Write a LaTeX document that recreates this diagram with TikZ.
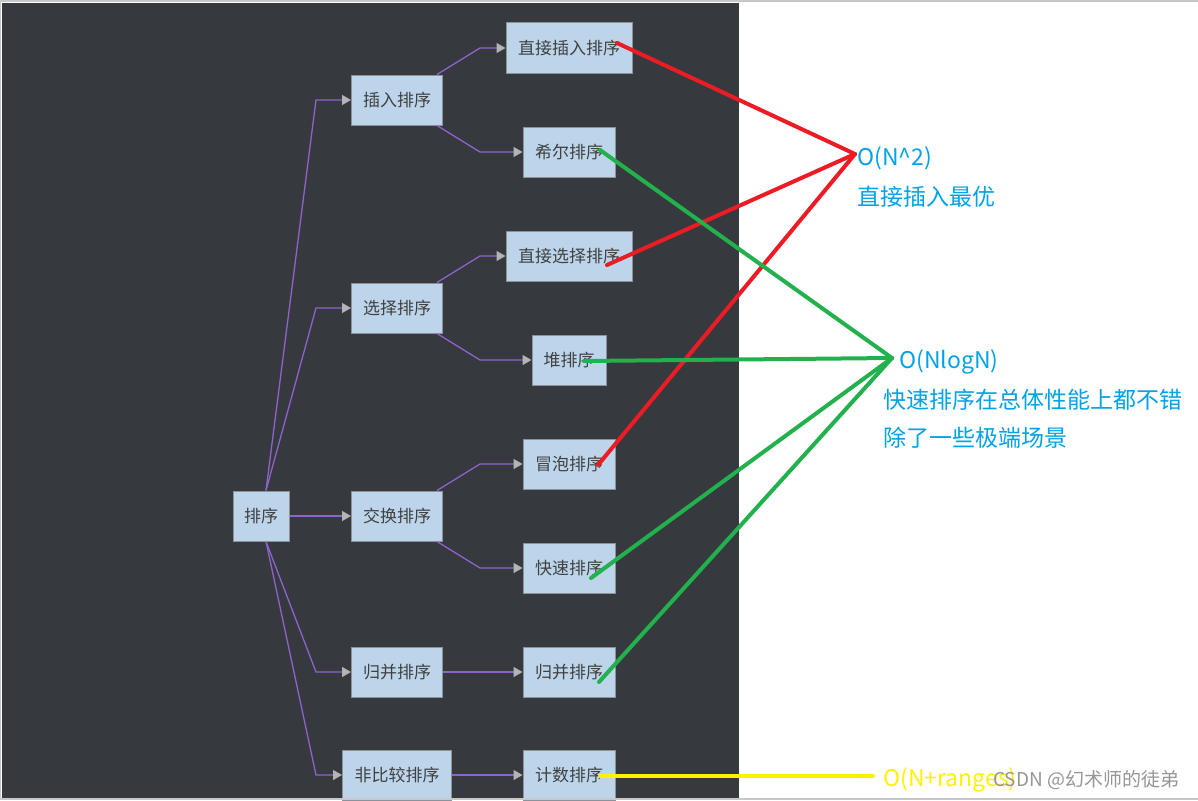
\documentclass[tikz,border=0pt]{standalone}
\usepackage{fontspec}
\setmainfont{Noto Sans CJK SC}
\usetikzlibrary{arrows.meta,calc}
\definecolor{bgdark}{RGB}{54,57,62}
\definecolor{nodefill}{RGB}{189,213,234}
\definecolor{nodeborder}{RGB}{140,146,152}
\definecolor{nodetext}{RGB}{64,64,64}
\definecolor{connpurple}{RGB}{142,99,206}
\definecolor{arrowgray}{RGB}{180,180,180}
\definecolor{linered}{RGB}{237,28,36}
\definecolor{linegreen}{RGB}{34,177,76}
\definecolor{lineyellow}{RGB}{255,242,0}
\definecolor{labelblue}{RGB}{0,162,232}
\definecolor{framegray}{RGB}{200,200,200}
\definecolor{wmgray}{RGB}{150,150,150}
\begin{document}
\begin{tikzpicture}[x=1pt,y=-1pt,
  box/.style={draw=nodeborder, fill=nodefill, line width=1pt, minimum height=50pt, inner xsep=0pt, inner ysep=0pt,
     text=nodetext, font=\fontsize{17}{17}\selectfont},
  conn/.style={draw=connpurple, line width=1.3pt, -{Triangle[length=9pt,width=10pt,color=arrowgray]}},
  redl/.style={draw=linered, line width=4pt, line cap=round},
  greenl/.style={draw=linegreen, line width=4pt, line cap=round},
  yell/.style={draw=lineyellow, line width=4pt, line cap=round},
  lbl/.style={anchor=west, inner sep=0pt, text=labelblue, font=\fontsize{23}{23}\selectfont}
]
\useasboundingbox (0,0) rectangle (1198,800);
\fill[white] (0,0) rectangle (1198,800);
\fill[bgdark] (2,3) rectangle (739,798);
\draw[framegray, line width=1.2pt] (0,1) -- (1198,1);
\draw[framegray, line width=1pt] (0.5,0) -- (0.5,800);

% level 0
\node[box, minimum width=56pt] (root) at (261,516) {排序};
% level 1
\node[box, minimum width=91pt] (ins) at (397,100) {插入排序};
\node[box, minimum width=91pt] (sel) at (397,308) {选择排序};
\node[box, minimum width=91pt] (swap) at (397,516) {交换排序};
\node[box, minimum width=91pt] (mrg) at (397,672) {归并排序};
\node[box, minimum width=109pt] (nc) at (397,775) {非比较排序};
% level 2
\node[box, minimum width=126pt] (dins) at (569,48) {直接插入排序};
\node[box, minimum width=92pt] (shell) at (569,152) {希尔排序};
\node[box, minimum width=126pt] (dsel) at (569,256) {直接选择排序};
\node[box, minimum width=74pt] (heap) at (569,360) {堆排序};
\node[box, minimum width=92pt] (bub) at (569,464) {冒泡排序};
\node[box, minimum width=92pt] (quick) at (569,568) {快速排序};
\node[box, minimum width=92pt] (mrg2) at (569,672) {归并排序};
\node[box, minimum width=92pt] (cnt) at (569,775) {计数排序};

\coordinate (bx1) at (316,0);
\coordinate (bx2) at (480,0);

% connectors from root
\draw[conn] ($(root.north)+(5,0)$) -- (bx1 |- ins.west) -- (ins.west);
\draw[conn] ($(root.north)+(5,0)$) -- (bx1 |- sel.west) -- (sel.west);
\draw[conn] (root.east) -- (swap.west);
\draw[conn] ($(root.south)+(5,0)$) -- (bx1 |- mrg.west) -- (mrg.west);
\draw[conn] ($(root.south)+(5,0)$) -- (bx1 |- nc.west) -- (nc.west);
% level 1 to level 2
\draw[conn] ($(ins.north east)+(-6,0)$) -- (bx2 |- dins.west) -- (dins.west);
\draw[conn] ($(ins.south east)+(-6,0)$) -- (bx2 |- shell.west) -- (shell.west);
\draw[conn] ($(sel.north east)+(-6,0)$) -- (bx2 |- dsel.west) -- (dsel.west);
\draw[conn] ($(sel.south east)+(-6,0)$) -- (bx2 |- heap.west) -- (heap.west);
\draw[conn] ($(swap.north east)+(-6,0)$) -- (bx2 |- bub.west) -- (bub.west);
\draw[conn] ($(swap.south east)+(-6,0)$) -- (bx2 |- quick.west) -- (quick.west);
\draw[conn] (mrg.east) -- (mrg2.west);
\draw[conn] (nc.east) -- (cnt.west);

% complexity targets
\coordinate (cN2) at (855,154);
\coordinate (cNlog) at (892,358);
\coordinate (cNr) at (873,776);

\draw[redl] ($(dins)+(48,-5)$) -- (cN2);
\draw[redl] ($(dsel)+(38,9)$) -- (cN2);
\draw[redl] ($(bub)+(29,1)$) -- (cN2);

\draw[greenl] ($(shell)+(31,-2)$) -- (cNlog);
\draw[greenl] ($(heap)+(15,1)$) -- (cNlog);
\draw[greenl] ($(quick)+(22,10)$) -- (cNlog);
\draw[greenl] ($(mrg2)+(30,10)$) -- (cNlog);

\draw[yell] ($(cnt)+(31,1)$) -- (cNr);

% labels
\node[lbl] (t1) at (857,158) {O(N\textasciicircum 2)};
\node[lbl] (t2) at (857,197) {直接插入最优};
\node[lbl] (t3) at (899,362) {O(NlogN)};
\node[lbl] (t4) at (883,400) {快速排序在总体性能上都不错};
\node[lbl] (t5) at (883,438) {除了一些极端场景};
\node[lbl, text=lineyellow] (t6) at (883,780) {O(N+ranges)};
\node[anchor=west, inner sep=0pt, text=wmgray, font=\fontsize{19}{19}\selectfont] (wm) at (993,780) {CSDN @幻术师的徒弟};

\draw[framegray, line width=1.2pt] (0,799) -- (1198,799);
\end{tikzpicture}
\end{document}
